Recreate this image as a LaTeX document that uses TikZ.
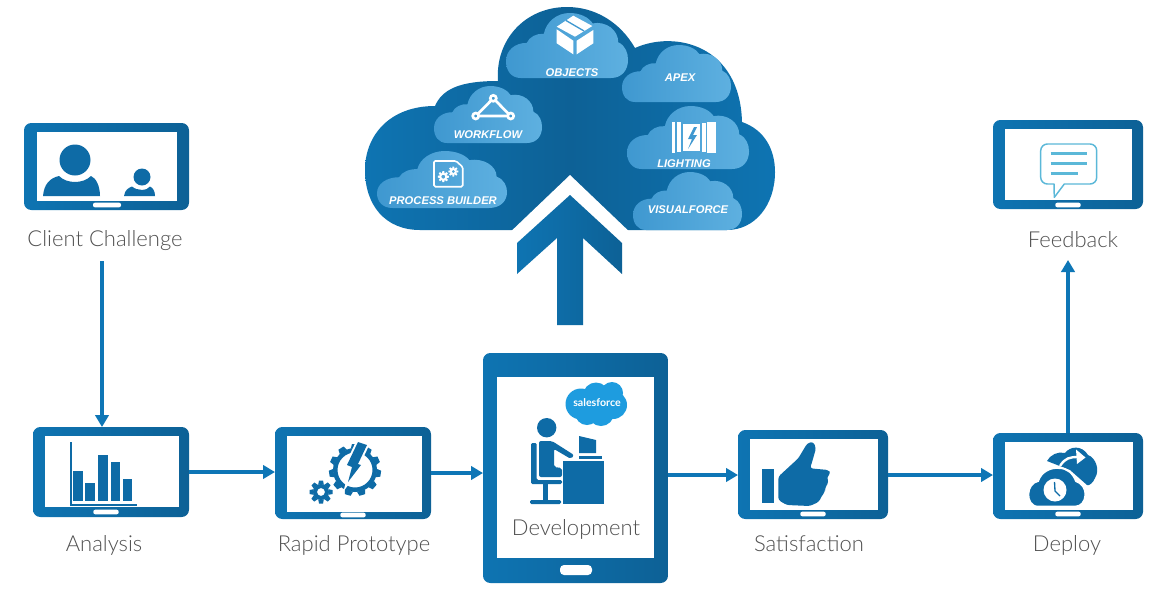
\documentclass[tikz,border=0pt]{standalone}
\usepackage{fontspec}
\setmainfont{Lato}[UprightFont=* Light]
\newfontfamily\cloudfont{Liberation Sans}
\newfontfamily\sffont{Lato}
\usetikzlibrary{arrows.meta,calc}
\definecolor{blueA}{HTML}{0E74B2}
\definecolor{blueB}{HTML}{0D6196}
\definecolor{icon}{HTML}{0E6BA6}
\definecolor{lineblue}{HTML}{0E76B6}
\definecolor{cloudA}{HTML}{3F98D0}
\definecolor{cloudB}{HTML}{5EB0E0}
\definecolor{bubble}{HTML}{5BB8D8}
\definecolor{sfblue}{HTML}{1E9CDF}
\definecolor{labelgray}{HTML}{505050}
\tikzset{
  x=0.75pt,y=-0.75pt,
  tablet/.style={rectangle,rounded corners=5.5pt,left color=blueA,right color=blueB,draw=none,inner sep=0,outer sep=0},
  screen/.style={rectangle,fill=white,draw=none,inner sep=0},
  homebtn/.style={rectangle,rounded corners=1.5pt,fill=white,draw=none,inner sep=0},
  caption/.style={text=labelgray,font=\fontsize{16.5}{18}\selectfont,inner sep=0},
  cloudtxt/.style={text=white,font=\cloudfont\bfseries\itshape\fontsize{8.4}{9}\selectfont,inner sep=0},
  flow/.style={draw=lineblue,line width=3.3pt,-{Triangle[length=9pt,width=10pt]}},
  iconfill/.style={fill=icon,draw=none},
}
\newcommand{\tablet}[9]{%
  \node[tablet,minimum width={((#4)-(#2))*0.75pt},minimum height={((#5)-(#3))*0.75pt}] (#1) at ({((#2)+(#4))/2},{((#3)+(#5))/2}) {};
  \tabletscreen{#1}{#6}{#7}{#8}{#9}}
\newcommand{\tabletscreen}[5]{%
  \node[screen,minimum width={((#4)-(#2))*0.75pt},minimum height={((#5)-(#3))*0.75pt}] (#1scr) at ({((#2)+(#4))/2},{((#3)+(#5))/2}) {};}
\newcommand{\smallcloud}[4]{%
  \begin{scope}[shift={(#1,#2)},xscale={(#3)-(#1)},yscale={(#4)-(#2)}]
  \path[left color=cloudA,right color=cloudB]
   (0.12,1) .. controls (0.04,1) and (0,0.88) .. (0,0.74)
   .. controls (0,0.58) and (0.07,0.46) .. (0.17,0.46)
   .. controls (0.19,0.37) and (0.25,0.31) .. (0.31,0.32)
   .. controls (0.33,0.13) and (0.42,0) .. (0.52,0)
   .. controls (0.61,0) and (0.68,0.07) .. (0.71,0.16)
   .. controls (0.82,0.12) and (0.92,0.26) .. (0.92,0.45)
   .. controls (0.98,0.5) and (1,0.62) .. (1,0.72)
   .. controls (1,0.88) and (0.95,1) .. (0.86,1) -- cycle;
  \end{scope}}
\newcommand{\gearicon}[8]{%
  \fill[#8,even odd rule] (#1,#2) circle (#4) (#1,#2) circle (#5);
  \foreach \k in {1,...,#6}{
    \fill[#8,rotate around={{\k*360/#6}:(#1,#2)}]
      ({#1-#7},{#2-#3}) -- ({#1+#7},{#2-#3}) -- ({#1+#7*1.4},{#2-#4+0.5}) -- ({#1-#7*1.4},{#2-#4+0.5}) -- cycle;
  }}
\begin{document}
\begin{tikzpicture}
\useasboundingbox (0,0) rectangle (1166,593);
\fill[white] (0,0) rectangle (1166,593);
% big cloud
\path[left color=blueA,right color=blueA,middle color=blueB]
 (420,230) .. controls (385,230) and (365,205) .. (365,170)
 .. controls (365,135) and (390,106) .. (435,106)
 .. controls (442,90) and (458,81) .. (498,81)
 .. controls (495,40) and (525,7) .. (567,7)
 .. controls (595,7) and (620,22) .. (635,48)
 .. controls (675,30) and (740,45) .. (742,122)
 .. controls (765,130) and (775,150) .. (775,172)
 .. controls (775,205) and (755,230) .. (727,230) -- cycle;
\smallcloud{506}{13}{628}{78}
\smallcloud{622}{45}{731}{102}
\smallcloud{434}{86}{542}{143}
\smallcloud{377}{151}{507}{208}
\smallcloud{627}{106}{749}{169}
\smallcloud{633}{172}{742}{230}
\node[cloudtxt] (objects) at (572,73) {OBJECTS};
\node[cloudtxt] (apex) at (680,78) {APEX};
\node[cloudtxt] (workflow) at (488,135) {WORKFLOW};
\node[cloudtxt] (procb) at (443,201) {PROCESS BUILDER};
\node[cloudtxt] (lighting) at (684,164) {LIGHTING};
\node[cloudtxt] (visual) at (688,210) {VISUALFORCE};
% box icon
\fill[white] (556.7,26.7) -- (573.3,15.7) -- (592.3,26) -- (575,36.7) -- cycle;
\draw[cloudA,line width=1pt] (566,20.5) -- (584,31);
\fill[white] (556.7,29.3) -- (573.3,40.7) -- (573.3,54.3) -- (556.7,43.3) -- cycle;
\fill[white] (576.7,40.7) -- (593.3,30) -- (593.3,43.3) -- (576.7,54.3) -- cycle;
% workflow icon
\draw[white,line width=2pt] (475.7,116) -- (493.3,98.3) -- (510.7,116) -- cycle;
\foreach \p in {(475.7,116),(493.3,98.3),(510.7,116)} \filldraw[draw=white,line width=2pt,fill=cloudA] \p circle (3);
% process icon
\draw[white,line width=1.2pt,rounded corners=1pt] (434,161) -- (456,161) -- (462.7,167) -- (462.7,186.7) -- (434,186.7) -- cycle;
\gearicon{443.3}{176.7}{5.5}{4}{2}{8}{0.9}{white}
\gearicon{453.3}{171.5}{5}{3.5}{1.8}{8}{0.8}{white}
% lightning icon
\fill[white] (672.3,122) rectangle (675,152.7);
\fill[white] (676.7,122.3) rectangle (680.7,152);
\fill[white] (682.5,124) -- (700,124) -- (700,151) -- (682.5,151) -- cycle;
\fill[white] (701.7,122.7) rectangle (705.5,152);
\fill[white] (707,122) rectangle (715.7,152.7);
\fill[cloudA] (694,127) -- (688,139) -- (692,139) -- (688,149) -- (697,135) -- (693,135) -- (697,127) -- cycle;
% arrow
\fill[white] (570,175) -- (504,238) -- (636,238) -- cycle;
\path[left color=blueA,right color=blueB]
 (570,195) -- (622,243) -- (622,274) -- (583,238) -- (583,325) -- (557,325) -- (557,238) -- (517,274) -- (517,243) -- cycle;
% connectors
\coordinate (start) at (102,261);
\coordinate (fbEnd) at (1068,260);
% tablets
\tablet{client}{24}{123}{189}{210}{37}{132}{177}{201}
\tablet{analysis}{33}{427}{189}{517}{45}{436}{179}{507}
\tablet{rapid}{275}{427}{431}{519}{287}{436}{422}{512}
\tablet{dev}{483}{353}{668}{583}{497}{377}{654}{558}
\tablet{satis}{738}{430}{888}{519}{750}{439}{878}{510}
\tablet{deploy}{993}{433}{1143}{519}{1005}{442}{1133}{510}
\tablet{feedback}{993}{120}{1143}{209}{1005}{129}{1132}{200}
\node[homebtn,minimum width=21pt,minimum height=3.5pt] (b1) at (107,205) {};
\node[homebtn,minimum width=19pt,minimum height=3.5pt] (b2) at (106,512) {};
\node[homebtn,minimum width=19pt,minimum height=3.5pt] (b3) at (353,515) {};
\node[homebtn,rounded corners=3pt,minimum width=24pt,minimum height=7.5pt] (b4) at (576,570) {};
\node[homebtn,minimum width=19pt,minimum height=3.5pt] (b5) at (813,514) {};
\node[homebtn,minimum width=19pt,minimum height=3.5pt] (b6) at (1068,514) {};
\node[homebtn,minimum width=19pt,minimum height=3.5pt] (b7) at (1068,205) {};
% captions
\node[caption] (cClient) at (105,240.5) {Client Challenge};
\node[caption] (cAnalysis) at (104,545) {Analysis};
\node[caption] (cRapid) at (354,545) {Rapid Prototype};
\node[caption] (cDev) at (576,529) {Development};
\node[caption] (cSatis) at (809,543.5) {Satisfaction};
\node[caption] (cDeploy) at (1067,545) {Deploy};
\node[caption] (cFeed) at (1073,239.5) {Feedback};
\draw[flow] (start) -- (start |- analysis.north);
\draw[flow] (analysis.east) -- (analysis.east -| rapid.west);
\draw[flow] (rapid.east |- 0,473) -- (dev.west |- 0,473);
\draw[flow] (dev.east |- 0,475) -- (satis.west |- 0,475);
\draw[flow] (satis.east |- 0,475) -- (deploy.west |- 0,475);
\draw[flow] (deploy.north -| fbEnd) -- (fbEnd);
% client icon
\fill[icon] (75,160) circle (15.5);
\fill[icon] (43,196) .. controls (44,184) and (50,178) .. (59,176) .. controls (67,184) and (83,184) .. (91,176) .. controls (96,178) and (100,186) .. (100,196) -- cycle;
\fill[icon] (142,177) circle (8.5);
\fill[icon] (124,196) .. controls (125,190) and (128,188) .. (132,186.5) .. controls (137,191) and (147,191) .. (150,186.5) .. controls (153,188) and (155,191) .. (155,196) -- cycle;
% analysis icon
\fill[icon] (69.5,442) rectangle (71.5,505.5);
\fill[icon] (69.5,504) rectangle (137,506);
\fill[icon] (72.7,470.7) rectangle (82.7,501);
\fill[icon] (85.3,483.3) rectangle (95,501);
\fill[icon] (98,455.3) rectangle (107.7,501);
\fill[icon] (110.7,462.3) rectangle (120.3,501);
\fill[icon] (123,479.3) rectangle (132.3,501);
% rapid icon
\gearicon{355}{470}{26}{22}{17.5}{11}{3}{icon}
\filldraw[draw=white,line width=3pt,fill=white,line join=miter] (358,442) -- (367,445) -- (358,464) -- (361,465) -- (348,482) -- (352,467) -- (347,465) -- cycle;
\fill[icon] (358,442) -- (367,445) -- (358,464) -- (361,465) -- (348,482) -- (352,467) -- (347,465) -- cycle;
\gearicon{321}{492}{11.5}{8}{4}{8}{2}{icon}
% development icon
\fill[icon] (546.7,427.7) circle (9.7);
\fill[icon,rounded corners=1.5pt] (539,441) -- (552,441) -- (574,455) -- (571,459) -- (554,449) -- (554,467) -- (562,468) -- (562,477) -- (539,477) -- cycle;
\fill[icon,rounded corners=1pt] (531,443) -- (536.7,443) -- (536.7,480) -- (562,480) -- (562,484) -- (531,484) -- cycle;
\fill[icon] (543,484) rectangle (548,500);
\fill[icon,rounded corners=1pt] (530,500) rectangle (561,504);
\fill[icon] (563.3,460.7) rectangle (604.3,503.7);
\fill[icon] (578.7,455.7) rectangle (601.7,459.3);
\fill[icon] (579,436) -- (596,440) -- (596,453) -- (579,453) -- cycle;
% salesforce cloud
\fill[sfblue] (581,404) circle (15.5) (596,395.5) circle (13) (612,393) circle (11) (613,405) circle (14) (601,413) circle (13) (587,413) circle (12);
\node[text=white,inner sep=0,font=\sffont\bfseries\fontsize{8}{9}\selectfont] (sf) at (597,402.5) {salesforce};
% satisfaction icon
\fill[icon] (761.7,469) rectangle (774.3,503.3);
\fill[icon,rounded corners=2pt] (778.3,500) -- (778.3,476.7) -- (798.3,458.3) -- (807.3,443.3) -- (813.3,441.7) -- (816,448.3) -- (811.7,463.3) -- (810,468.3) -- (828.3,470) -- (830.7,473.3) -- (826.7,477.3) -- (828.7,481.7) -- (825,488.3) -- (825,491.7) -- (821.7,496) -- (819,501.7) -- (810,506) -- (786.7,505) -- cycle;
% deploy icon
\fill[icon] (1047,461) .. controls (1050,455) and (1058,451) .. (1065,453) .. controls (1070,446) and (1082,445) .. (1088,455) .. controls (1096,458) and (1100,470) .. (1095,478) .. controls (1093,483) and (1089,486) .. (1087,485) -- (1070,470) -- cycle;
\filldraw[draw=white,line width=1.5pt,fill=icon] (1038,506.7) .. controls (1031,506.7) and (1028,500) .. (1028.3,494) .. controls (1028.5,488) and (1032,482) .. (1038,481) .. controls (1041,472) and (1050,467) .. (1059,468) .. controls (1067,468) and (1073,473) .. (1076,481) .. controls (1082,483) and (1086,489) .. (1085.5,495) .. controls (1085,502) and (1081,506.7) .. (1075,506.7) -- cycle;
\draw[white,line width=1.8pt] (1060,466) .. controls (1065,458) and (1070,457) .. (1078,457);
\fill[white] (1076,449.5) -- (1085.5,457.5) -- (1077,464) -- cycle;
\fill[white] (1055,490) circle (11.5);
\draw[icon,line width=1pt] (1054.5,482) -- (1055,491) -- (1060,496);
% feedback icon
\draw[bubble,line width=1.1pt,line join=round] (1054,184) [rounded corners=5pt] -- (1040.7,184) -- (1040.7,144) -- (1096.7,144) -- (1096.7,184) [sharp corners] -- (1064.3,184) -- (1054.3,197.3) -- cycle;
\draw[bubble,line width=2.3pt] (1050.7,153.3) -- (1086.7,153.3) (1050.7,163.7) -- (1086.7,163.7) (1050.7,173.7) -- (1078.3,173.7);
\end{tikzpicture}
\end{document}
